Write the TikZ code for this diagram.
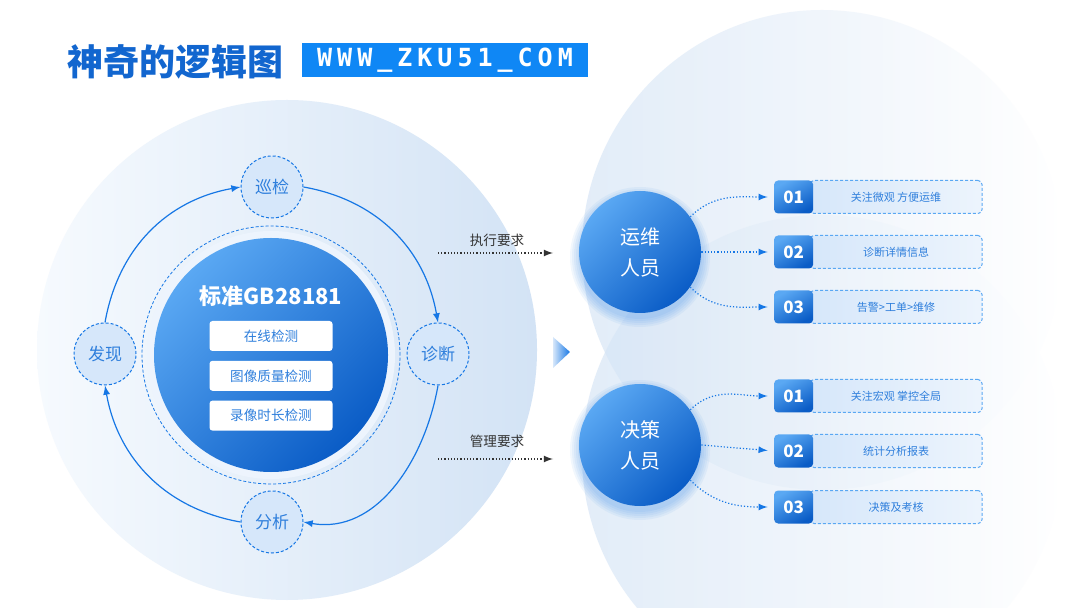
\documentclass[tikz,border=0pt]{standalone}
\usepackage{fontspec}
\setmainfont{Noto Sans CJK SC}
\newfontfamily\urlfont[LetterSpace=20]{DejaVu Sans Mono}
\usetikzlibrary{positioning}
\definecolor{mainBlue}{HTML}{1677E5}
\definecolor{darkBlue}{HTML}{0A5CC6}
\definecolor{lightBlue}{HTML}{5AA8F3}
\definecolor{paleBlue}{HTML}{D6E7FA}
\definecolor{textBlue}{HTML}{2F7FDC}
\definecolor{urlBlue}{HTML}{0F87F5}
\definecolor{titleBlue}{HTML}{1266CF}
\definecolor{discLeft}{HTML}{F6FAFE}
\definecolor{discRight}{HTML}{D3E3F5}

\begin{document}
\begin{tikzpicture}[x=0.5pt, y=0.5pt, >=latex,
	cycleNode/.style={circle, draw=mainBlue, dash pattern=on 1.5pt off 1pt, line width=0.5pt, fill=paleBlue, minimum size=31pt, inner sep=0pt, text=textBlue, font=\fontsize{8.5}{10}\selectfont},
	cycleArrow/.style={->, draw=mainBlue, line width=0.6pt},
	checkBox/.style={rectangle, rounded corners=1.5pt, fill=white, minimum width=61.5pt, minimum height=15pt, inner sep=0pt, text=textBlue, font=\fontsize{6.8}{8}\selectfont},
	roleNode/.style={circle, minimum size=61pt, inner sep=0pt, top color=lightBlue, bottom color=darkBlue, shading angle=45, text=white, align=center, font=\fontsize{10}{15.5}\selectfont},
	numBox/.style={rectangle, rounded corners=2pt, minimum width=19.5pt, minimum height=16.5pt, inner sep=0pt, top color=lightBlue, bottom color=darkBlue, shading angle=30, text=white, font=\bfseries\fontsize{8.5}{10}\selectfont},
	itemBox/.style={rectangle, rounded corners=2pt, draw=lightBlue, dash pattern=on 1.5pt off 1pt, line width=0.5pt, left color=paleBlue, right color=paleBlue!45, minimum width=86pt, minimum height=16.5pt, inner sep=0pt, text=textBlue, font=\fontsize{5.5}{7}\selectfont},
	itemArrow/.style={->, draw=mainBlue, densely dotted, line width=0.6pt, shorten >=3pt},
	needArrow/.style={->, draw=black!80, densely dotted, line width=0.6pt},
	needLabel/.style={text=black!80, font=\fontsize{6.8}{8}\selectfont}
	]
	% Background
	\clip (0,0) rectangle (1080,-608);
	\fill[white] (0,0) rectangle (1080,-608);
	\shade[left color=discLeft, right color=discRight] (287,-350) circle (250);
	\shade[left color=discRight, right color=white, opacity=0.65] (822,-250) circle (240);
	\shade[left color=discRight, right color=white, opacity=0.65] (822,-455) circle (240);
	% Title
	\node[text=titleBlue, font=\bfseries\fontsize{18}{20}\selectfont] (Title) at (175,-62) {神奇的逻辑图};
	\node[fill=urlBlue, text=white, minimum width=143pt, minimum height=17pt, inner sep=0pt, font=\urlfont\bfseries\fontsize{12.5}{14}\selectfont] (Site) at (445,-60) {WWW\_ZKU51\_COM};
	% Center
	\fill[white!55!paleBlue] (271,-355) circle (124);
	\draw[mainBlue, dash pattern=on 1.5pt off 1pt, line width=0.4pt] (271,-355) circle (129);
	\node[circle, minimum size=117pt, inner sep=0pt, top color=lightBlue, bottom color=darkBlue, shading angle=45] (Standard) at (271,-355) {};
	\node[text=white, font=\bfseries\fontsize{11}{13}\selectfont] (StandardTitle) at (271,-296) {标准GB28181};
	\node[checkBox] (Online) at (271,-336) {在线检测};
	\node[checkBox, below=4.5pt of Online] (Quality) {图像质量检测};
	\node[checkBox, below=4.5pt of Quality] (Record) {录像时长检测};
	% Cycle
	\node[cycleNode] (Xunjian) at (272,-187) {巡检};
	\node[cycleNode] (Zhenduan) at (438,-354) {诊断};
	\node[cycleNode] (Fenxi) at (272,-522) {分析};
	\node[cycleNode] (Faxian) at (105,-354) {发现};
	\draw[cycleArrow] (Xunjian.east) to[out=-10, in=100] (Zhenduan.north);
	\draw[cycleArrow] (Zhenduan.south) to[out=-100, in=-10] (Fenxi.east);
	\draw[cycleArrow] (Fenxi.west) to[out=170, in=-80] (Faxian.south);
	\draw[cycleArrow] (Faxian.north) to[out=80, in=190] (Xunjian.west);
	% Requirements
	\node[needLabel] (DoNeed) at (497,-240) {执行要求};
	\node[needLabel] (ManageNeed) at (497,-441) {管理要求};
	\coordinate (DoStart) at (438,-253);
	\coordinate (DoEnd) at (553,-253);
	\coordinate (ManageStart) at (438,-459);
	\coordinate (ManageEnd) at (553,-459);
	\draw[needArrow] (DoStart) -- (DoEnd);
	\draw[needArrow] (ManageStart) -- (ManageEnd);
	\shade[left color=paleBlue, right color=mainBlue] (553,-337) -- (570,-352) -- (553,-368) -- cycle;
	% Roles
	\foreach \r in {62,64,66,68,70} {
		\fill[mainBlue, opacity=0.06] (640,-257) circle (\r);
		\fill[mainBlue, opacity=0.06] (640,-450) circle (\r);
	}
	\node[roleNode] (Yunwei) at (640,-252) {运维\\人员};
	\node[roleNode] (Juece) at (640,-445) {决策\\人员};
	% Items
	\node[itemBox] (ItemA1) at (896,-197) {关注微观 方便运维};
	\node[itemBox] (ItemA2) at (896,-252) {诊断详情信息};
	\node[itemBox] (ItemA3) at (896,-307) {告警>工单>维修};
	\node[itemBox] (ItemB1) at (896,-396) {关注宏观 掌控全局};
	\node[itemBox] (ItemB2) at (896,-451) {统计分析报表};
	\node[itemBox] (ItemB3) at (896,-507) {决策及考核};
	\node[numBox, left=-2pt of ItemA1.west] (NumA1) {01};
	\node[numBox, left=-2pt of ItemA2.west] (NumA2) {02};
	\node[numBox, left=-2pt of ItemA3.west] (NumA3) {03};
	\node[numBox, left=-2pt of ItemB1.west] (NumB1) {01};
	\node[numBox, left=-2pt of ItemB2.west] (NumB2) {02};
	\node[numBox, left=-2pt of ItemB3.west] (NumB3) {03};
	\draw[itemArrow] (Yunwei.35) to[out=45, in=180] (NumA1.west);
	\draw[itemArrow] (Yunwei.east) -- (NumA2.west);
	\draw[itemArrow] (Yunwei.-35) to[out=-45, in=180] (NumA3.west);
	\draw[itemArrow] (Juece.35) to[out=45, in=180] (NumB1.west);
	\draw[itemArrow] (Juece.east) -- (NumB2.west);
	\draw[itemArrow] (Juece.-35) to[out=-45, in=180] (NumB3.west);
\end{tikzpicture}
\end{document}
